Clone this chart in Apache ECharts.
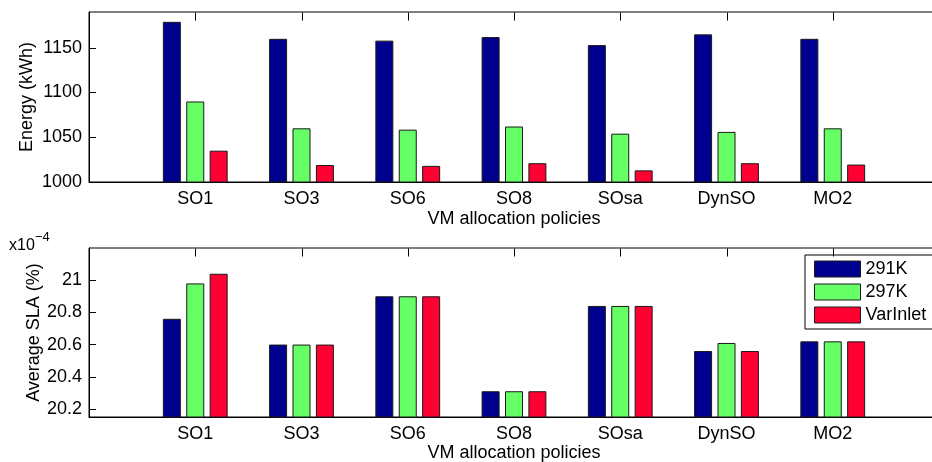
<!DOCTYPE html>
<html>
<head>
<meta charset="utf-8">
<script src="https://cdn.jsdelivr.net/npm/echarts@6/dist/echarts.min.js"></script>
<style>
  html, body { margin: 0; padding: 0; background: #fff; }
  #chart { width: 932px; height: 462px; }
</style>
</head>
<body>
<div id="chart"></div>
<script>
// VM allocation policies compared under three inlet temperature settings
const policies = ['SO1', 'SO3', 'SO6', 'SO8', 'SOsa', 'DynSO', 'MO2'];
const seriesNames = ['291K', '297K', 'VarInlet'];

// Energy consumption (kWh)
const energy291K = [1179, 1160, 1158, 1162, 1153, 1165, 1160];
const energy297K = [1090, 1060, 1058.5, 1062, 1054, 1056, 1060];
const energyVarInlet = [1035, 1019, 1018, 1021, 1013, 1021, 1019.5];

// Average SLA violation (%), in units of 1e-4
const sla291K = [20.76, 20.60, 20.90, 20.31, 20.84, 20.56, 20.62];
const sla297K = [20.98, 20.60, 20.90, 20.31, 20.84, 20.61, 20.62];
const slaVarInlet = [21.04, 20.60, 20.90, 20.31, 20.84, 20.56, 20.62];

const colors = ['#00008F', '#66FF66', '#FF0033'];
const FONT = '"Liberation Sans", Arial, Helvetica, sans-serif';

// one empty slot on each side of the policy groups
const axisCats = [''].concat(policies, ['']);
const pad = arr => [null].concat(arr, [null]);
const plain = v => String(Math.round(v * 100) / 100);

const chart = echarts.init(document.getElementById('chart'), null, { renderer: 'canvas' });

// boxed plot areas; they run slightly past the right edge of the page
const gridBox = { show: true, borderColor: '#000', borderWidth: 1, backgroundColor: 'transparent',
  outerBoundsMode: 'none', containLabel: false };
const grids = [
  Object.assign({ left: 89, top: 12, width: 850, height: 170 }, gridBox),
  Object.assign({ left: 89, top: 248, width: 850, height: 169 }, gridBox)
];
const yRanges = [{ min: 1000, max: 1190 }, { min: 20.15, max: 21.2 }];

function xAxis(gridIndex, nameGap) {
  return {
    type: 'category', gridIndex, data: axisCats, boundaryGap: false, position: 'bottom',
    name: 'VM allocation policies', nameLocation: 'middle', nameGap, nameMoveOverlap: false,
    nameTextStyle: { fontSize: 18, color: '#000', fontFamily: FONT },
    axisLine: { lineStyle: { color: '#000', width: 1 } },
    axisTick: { inside: true, length: 7, lineStyle: { color: '#000' } },
    axisLabel: { fontSize: 18, color: '#000', fontFamily: FONT, margin: 8, interval: 0 },
    splitLine: { show: false }
  };
}

function yAxis(gridIndex, scale, extra) {
  return Object.assign({
    type: 'value', gridIndex, position: 'left', nameLocation: 'middle', nameMoveOverlap: false,
    nameTextStyle: { fontSize: 18, color: '#000', fontFamily: FONT },
    axisLine: { show: true, lineStyle: { color: '#000', width: 1 } },
    axisTick: { show: true, inside: true, length: 7, lineStyle: { color: '#000' } },
    axisLabel: { fontSize: 18, color: '#000', fontFamily: FONT, margin: 7, showMaxLabel: false, formatter: plain },
    splitLine: { show: false }
  }, scale, extra);
}

function bars(values, xAxisIndex, yAxisIndex) {
  return values.map((vals, i) => ({
    type: 'bar', name: seriesNames[i], xAxisIndex, yAxisIndex,
    data: pad(vals), barWidth: 18, barGap: '30%',
    itemStyle: { color: colors[i], borderColor: '#1a1a1a', borderWidth: 1 },
    emphasis: { disabled: true },
    animation: false
  }));
}

const baseGraphic = [
  { type: 'text', left: 9, top: 238, style: { text: 'x10', font: '16px ' + FONT, fill: '#000' } },
  { type: 'text', left: 35, top: 231, style: { text: '\u22124', font: '13px ' + FONT, fill: '#000' } }
];

const option = {
  animation: false,
  textStyle: { fontFamily: FONT },
  grid: grids,
  xAxis: [xAxis(0, 28), xAxis(1, 27)],
  yAxis: [
    yAxis(0, { min: yRanges[0].min, max: yRanges[0].max, interval: 50 }, { name: 'Energy (kWh)', nameGap: 53 }),
    yAxis(1, { min: yRanges[1].min, max: yRanges[1].max, splitNumber: 5 }, {
      name: 'Average SLA (%)', nameGap: 46,
      axisLabel: { fontSize: 18, color: '#000', fontFamily: FONT, margin: 7, showMaxLabel: false, showMinLabel: false, formatter: plain }
    })
  ],
  legend: {
    orient: 'vertical', left: 805, top: 255,
    data: seriesNames,
    icon: 'rect', itemWidth: 46, itemHeight: 16, itemGap: 5,
    padding: [5, 8, 5, 9],
    backgroundColor: '#fff', borderColor: '#000', borderWidth: 1, borderRadius: 0,
    itemStyle: { borderColor: '#1a1a1a', borderWidth: 1 },
    textStyle: { fontSize: 18, color: '#000', fontFamily: FONT },
    selectedMode: false
  },
  graphic: baseGraphic,
  series: [].concat(
    bars([energy291K, energy297K, energyVarInlet], 0, 0),
    bars([sla291K, sla297K, slaVarInlet], 1, 1)
  )
};

chart.setOption(option);

// tick marks along the top edge of each box, placed through the category axes
const topTicks = [];
[0, 1].forEach(g => {
  const yTop = chart.convertToPixel({ yAxisIndex: g }, yRanges[g].max);
  policies.forEach((p, i) => {
    const x = Math.round(chart.convertToPixel({ xAxisIndex: g }, i + 1)) + 0.5;
    const y0 = Math.round(yTop) + 0.5;
    topTicks.push({
      type: 'line', silent: true, z: 10,
      shape: { x1: x, y1: y0, x2: x, y2: y0 + 8 },
      style: { stroke: '#000', lineWidth: 1 }
    });
  });
});
chart.setOption({ graphic: baseGraphic.concat(topTicks) });
</script>
</body>
</html>
